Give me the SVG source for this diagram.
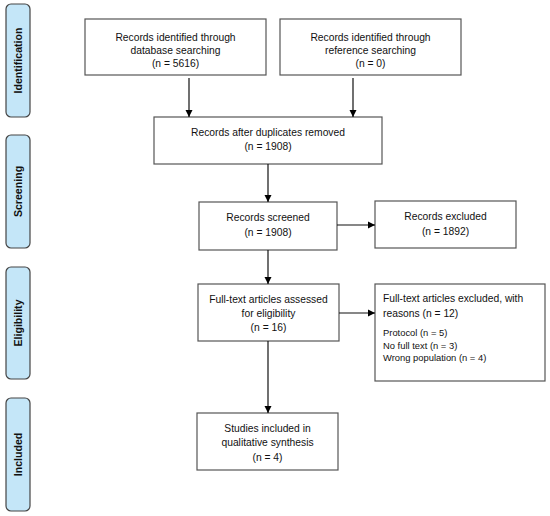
<svg xmlns="http://www.w3.org/2000/svg" width="550" height="516" viewBox="0 0 550 516">
<defs>
<marker id="ah" markerWidth="8" markerHeight="8" refX="7" refY="4" orient="auto" markerUnits="userSpaceOnUse">
<path d="M0,0.5 L7,4 L0,7.5 Z" fill="#000"/>
</marker>
<style>
.box{fill:#fff;stroke:#555;stroke-width:1.2}
.side{fill:#c4e6f8;stroke:#444;stroke-width:1.2}
.t{font-family:"Liberation Sans",Arial,sans-serif;font-size:10.3px;fill:#111;text-anchor:middle}
.tl{font-family:"Liberation Sans",Arial,sans-serif;font-size:10.3px;fill:#111}
.ts{font-family:"Liberation Sans",Arial,sans-serif;font-size:9.4px;fill:#111}
.st{font-family:"Liberation Sans",Arial,sans-serif;font-size:10.6px;font-weight:bold;fill:#111;text-anchor:middle}
.c{stroke:#111;stroke-width:1.2;fill:none;marker-end:url(#ah)}
</style>
</defs>
<rect width="550" height="516" fill="#fff"/>
<g id="phase-identification"><rect class="side" x="6" y="4" width="24" height="113" rx="5"/><text class="st" transform="translate(21.8,60.5) rotate(-90)">Identification</text></g>
<g id="phase-screening"><rect class="side" x="6" y="135" width="24" height="113" rx="5"/><text class="st" transform="translate(21.8,191.5) rotate(-90)">Screening</text></g>
<g id="phase-eligibility"><rect class="side" x="6" y="267" width="24" height="112" rx="5"/><text class="st" transform="translate(21.8,323) rotate(-90)">Eligibility</text></g>
<g id="phase-included"><rect class="side" x="6" y="398" width="24" height="113" rx="5"/><text class="st" transform="translate(21.8,454.5) rotate(-90)">Included</text></g>

<g id="db-search"><rect class="box" x="85" y="19" width="181" height="56"/>
<text class="t" x="175.5" y="41">Records identified through</text>
<text class="t" x="175.5" y="54">database searching</text>
<text class="t" x="175.5" y="67">(n = 5616)</text></g>
<g id="ref-search"><rect class="box" x="280" y="19" width="181" height="56"/>
<text class="t" x="370.5" y="41">Records identified through</text>
<text class="t" x="370.5" y="54">reference searching</text>
<text class="t" x="370.5" y="67">(n = 0)</text></g>
<g id="dedup"><rect class="box" x="154" y="117" width="228" height="47"/>
<text class="t" x="268" y="136">Records after duplicates removed</text>
<text class="t" x="268" y="150">(n = 1908)</text></g>
<g id="screened"><rect class="box" x="199" y="202" width="138" height="48"/>
<text class="t" x="268" y="221">Records screened</text>
<text class="t" x="268" y="236">(n = 1908)</text></g>
<g id="excluded"><rect class="box" x="375" y="201" width="141" height="47"/>
<text class="t" x="445.5" y="220">Records excluded</text>
<text class="t" x="445.5" y="235">(n = 1892)</text></g>
<g id="fulltext"><rect class="box" x="198" y="284" width="141" height="57"/>
<text class="t" x="268.5" y="303">Full-text articles assessed</text>
<text class="t" x="268.5" y="317">for eligibility</text>
<text class="t" x="268.5" y="331">(n = 16)</text></g>
<g id="ft-excluded"><rect class="box" x="375" y="284" width="170" height="97"/>
<text class="tl" x="383" y="302">Full-text articles excluded, with</text>
<text class="tl" x="383" y="317">reasons (n = 12)</text>
<text class="ts" x="383" y="336">Protocol (n = 5)</text>
<text class="ts" x="383" y="348.5">No full text (n = 3)</text>
<text class="ts" x="383" y="361">Wrong population (n = 4)</text></g>
<g id="included"><rect class="box" x="197" y="413" width="141" height="57"/>
<text class="t" x="267.5" y="432">Studies included in</text>
<text class="t" x="267.5" y="446">qualitative synthesis</text>
<text class="t" x="267.5" y="461">(n = 4)</text></g>

<g id="connectors">
<line class="c" x1="189" y1="78" x2="189" y2="117"/>
<line class="c" x1="353" y1="78" x2="353" y2="117"/>
<line class="c" x1="268" y1="164" x2="268" y2="202"/>
<line class="c" x1="337" y1="225" x2="375" y2="225"/>
<line class="c" x1="268" y1="250" x2="268" y2="284"/>
<line class="c" x1="339" y1="313" x2="375" y2="313"/>
<line class="c" x1="268" y1="341" x2="268" y2="413"/>
</g>
</svg>
